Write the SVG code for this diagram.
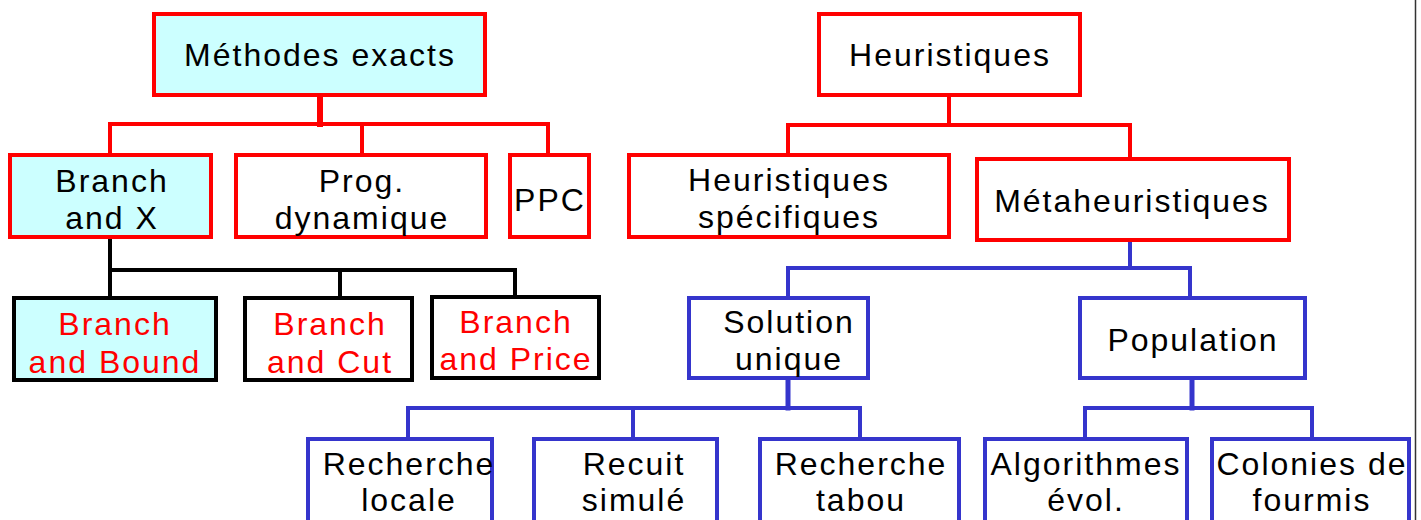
<svg xmlns="http://www.w3.org/2000/svg" width="1421" height="520" viewBox="0 0 1421 520">
  <style>
    text { font-family: "Liberation Sans", Arial, sans-serif; font-size: 32px; letter-spacing: 2px; text-anchor: middle; fill: #000; }
    text.red { fill: #FF0000; }
    rect { stroke-width: 4; }
    .exact { stroke: #FF0000; fill: #FFFFFF; }
    .exact-hl { stroke: #FF0000; fill: #CCFFFF; }
    .bx { stroke: #000000; fill: #FFFFFF; }
    .bx-hl { stroke: #000000; fill: #CCFFFF; }
    .meta { stroke: #3535CC; fill: #FFFFFF; }
    .links path { fill: none; stroke-width: 4; stroke-linejoin: miter; stroke-linecap: square; }
    .links .r { stroke: #FF0000; }
    .links .k { stroke: #000000; }
    .links .b { stroke: #3535CC; }
  </style>

  <rect x="0" y="0" width="1421" height="520" fill="#FFFFFF" stroke="none"/>

  <!-- connectors -->
  <g id="connectors" class="links">
    <!-- Méthodes exacts -> children -->
    <path class="r" d="M320 96 V124" style="stroke-width:6"/>
    <path class="r" d="M110 153 V124 H548 V153 M362 124 V153"/>
    <!-- Heuristiques -> children -->
    <path class="r" d="M949 96 V125"/>
    <path class="r" d="M788 153 V125 H1130 V157"/>
    <!-- Branch and X -> variants -->
    <path class="k" d="M110 238 V296"/>
    <path class="k" d="M110 270 H515 V296 M340 270 V297"/>
    <!-- Métaheuristiques -> children -->
    <path class="b" d="M1130 241 V268"/>
    <path class="b" d="M788 296 V268 H1190 V296"/>
    <!-- Solution unique -> children -->
    <path class="b" d="M788 379 V408" style="stroke-width:5"/>
    <path class="b" d="M408 437 V408 H860 V437 M633 408 V437"/>
    <!-- Population -> children -->
    <path class="b" d="M1192 379 V408" style="stroke-width:5"/>
    <path class="b" d="M1085 437 V408 H1312 V437"/>
  </g>

  <!-- exact methods -->
  <g id="methodes-exacts">
    <rect class="exact-hl" x="154" y="14" width="331" height="81"/>
    <text x="320" y="66">Méthodes exacts</text>
  </g>
  <g id="branch-and-x">
    <rect class="exact-hl" x="10" y="155" width="201" height="82"/>
    <text x="112" y="192">Branch</text>
    <text x="112" y="229">and X</text>
  </g>
  <g id="prog-dynamique">
    <rect class="exact" x="236" y="155" width="250" height="82"/>
    <text x="362" y="192">Prog.</text>
    <text x="362" y="229">dynamique</text>
  </g>
  <g id="ppc">
    <rect class="exact" x="510" y="155" width="79" height="82"/>
    <text x="550" y="211">PPC</text>
  </g>

  <!-- branch variants -->
  <g id="branch-and-bound">
    <rect class="bx-hl" x="14" y="298" width="202" height="82"/>
    <text class="red" x="115" y="335">Branch</text>
    <text class="red" x="115" y="373">and Bound</text>
  </g>
  <g id="branch-and-cut">
    <rect class="bx" x="245" y="298" width="167" height="82"/>
    <text class="red" x="330" y="335">Branch</text>
    <text class="red" x="330" y="373">and Cut</text>
  </g>
  <g id="branch-and-price">
    <rect class="bx" x="432" y="297" width="167" height="81"/>
    <text class="red" x="516" y="333">Branch</text>
    <text class="red" x="516" y="370">and Price</text>
  </g>

  <!-- heuristics -->
  <g id="heuristiques">
    <rect class="exact" x="819" y="14" width="261" height="81"/>
    <text x="950" y="66">Heuristiques</text>
  </g>
  <g id="heuristiques-specifiques">
    <rect class="exact" x="629" y="155" width="320" height="82"/>
    <text x="789" y="191">Heuristiques</text>
    <text x="789" y="228">spécifiques</text>
  </g>
  <g id="metaheuristiques">
    <rect class="exact" x="977" y="159" width="312" height="81"/>
    <text x="1132" y="212">Métaheuristiques</text>
  </g>

  <!-- metaheuristic families -->
  <g id="solution-unique">
    <rect class="meta" x="689" y="298" width="179" height="80"/>
    <text x="789" y="333">Solution</text>
    <text x="789" y="370">unique</text>
  </g>
  <g id="population">
    <rect class="meta" x="1080" y="298" width="225" height="80"/>
    <text x="1193" y="351">Population</text>
  </g>

  <!-- single-solution methods -->
  <g id="recherche-locale">
    <rect class="meta" x="308" y="439" width="184" height="90"/>
    <text x="409" y="475">Recherche</text>
    <text x="409" y="511">locale</text>
  </g>
  <g id="recuit-simule">
    <rect class="meta" x="534" y="439" width="183" height="90"/>
    <text x="634" y="475">Recuit</text>
    <text x="634" y="511">simulé</text>
  </g>
  <g id="recherche-tabou">
    <rect class="meta" x="760" y="439" width="199" height="90"/>
    <text x="861" y="475">Recherche</text>
    <text x="861" y="511">tabou</text>
  </g>

  <!-- population methods -->
  <g id="algorithmes-evol">
    <rect class="meta" x="985" y="439" width="202" height="90"/>
    <text x="1086" y="475">Algorithmes</text>
    <text x="1086" y="511">évol.</text>
  </g>
  <g id="colonies-de-fourmis">
    <rect class="meta" x="1212" y="439" width="197" height="90"/>
    <text x="1312" y="475">Colonies de</text>
    <text x="1312" y="511">fourmis</text>
  </g>

  <!-- page edge -->
  <line x1="1415.5" y1="0" x2="1415.5" y2="520" stroke="#333333" stroke-width="1.5"/>
</svg>
